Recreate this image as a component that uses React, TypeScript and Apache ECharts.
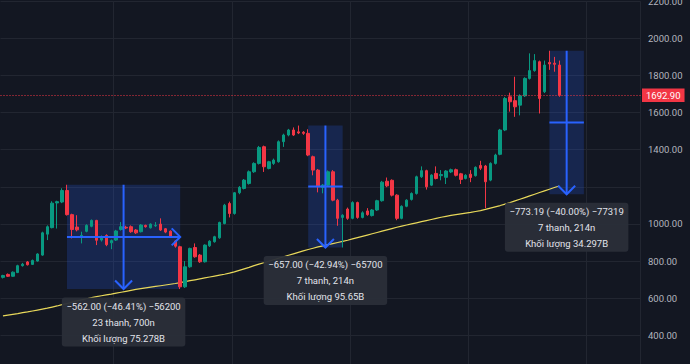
import React, { useEffect, useRef } from 'react';
import * as echarts from 'echarts';

const categories = Array.from({ length: 130 }, (_, i) => `${i + 1}`);

const opens = [
  712, 728, 718, 738, 775, 795, 782, 800, 832, 945,
  980, 1113, 1118, 1180, 1050, 983, 935, 960, 987, 1019,
  913, 938, 898, 913, 970, 982, 985, 967, 958, 992,
  979, 990, 999, 974, 961, 908, 877, 661, 769, 873,
  832, 796, 882, 904, 925, 1002, 1110, 1056, 1168, 1191,
  1218, 1281, 1326, 1416, 1299, 1326, 1335, 1443, 1479, 1506,
  1496, 1494, 1488, 1362, 1290, 1196, 1209, 1281, 1128, 1035,
  1080, 1030, 1115, 1035, 1070, 1045, 1075, 1125, 1230, 1235,
  1155, 1030, 1095, 1132, 1164, 1254, 1287, 1209, 1272, 1260,
  1251, 1280, 1292, 1270, 1245, 1268, 1260, 1315, 1312, 1236,
  1326, 1375, 1506, 1685, 1664, 1640, 1690, 1784, 1826, 1874,
  1712, 1870, 1866, 1856,
];
const closes = [
  722, 718, 740, 775, 783, 780, 803, 838, 952, 985,
  1112, 1120, 1180, 1050, 970, 968, 938, 992, 1019, 912,
  932, 888, 910, 962, 985, 978, 958, 952, 994, 985,
  999, 992, 967, 956, 934, 880, 661, 769, 868, 823,
  796, 886, 907, 931, 1008, 1101, 1056, 1168, 1197, 1236,
  1281, 1326, 1412, 1308, 1335, 1344, 1443, 1479, 1506, 1479,
  1490, 1488, 1371, 1290, 1200, 1209, 1281, 1128, 1030, 1047,
  1030, 1115, 1035, 1060, 1050, 1075, 1125, 1225, 1205, 1155,
  1030, 1095, 1128, 1164, 1254, 1287, 1200, 1263, 1245, 1266,
  1285, 1292, 1262, 1240, 1262, 1250, 1305, 1300, 1227, 1326,
  1371, 1506, 1676, 1658, 1631, 1690, 1784, 1826, 1880, 1676,
  1856, 1862, 1860, 1692.9,
];
const lows = [
  706, 714, 715, 735, 770, 776, 779, 797, 828, 913,
  976, 975, 1112, 1045, 922, 960, 895, 955, 982, 886,
  905, 880, 864, 908, 964, 972, 952, 946, 954, 980,
  975, 984, 962, 950, 928, 872, 649, 655, 764, 818,
  790, 792, 876, 899, 920, 998, 1035, 1050, 1160, 1186,
  1212, 1275, 1320, 1280, 1294, 1318, 1330, 1415, 1472, 1474,
  1484, 1480, 1365, 1262, 1170, 1165, 1204, 1122, 990, 873,
  1022, 1025, 1028, 1030, 1044, 1040, 1070, 1120, 1198, 1148,
  1020, 1025, 1090, 1126, 1158, 1248, 1185, 1204, 1240, 1235,
  1215, 1274, 1256, 1215, 1240, 1225, 1255, 1290, 1085, 1230,
  1320, 1370, 1500, 1605, 1577, 1585, 1684, 1778, 1820, 1595,
  1705, 1830, 1820, 1685,
];
const highs = [
  726, 733, 744, 780, 790, 800, 808, 842, 958, 992,
  1122, 1125, 1192, 1211, 1055, 1047, 958, 998, 1024, 1022,
  938, 944, 916, 968, 1010, 990, 992, 972, 999, 996,
  1003, 1010, 1030, 978, 965, 912, 882, 800, 872, 895,
  838, 890, 912, 936, 1012, 1108, 1120, 1172, 1204, 1242,
  1288, 1332, 1420, 1422, 1340, 1352, 1450, 1486, 1512, 1520,
  1530, 1500, 1510, 1368, 1296, 1215, 1288, 1290, 1135, 1052,
  1088, 1122, 1120, 1068, 1085, 1080, 1130, 1232, 1250, 1240,
  1160, 1100, 1133, 1170, 1260, 1310, 1292, 1268, 1310, 1290,
  1290, 1298, 1298, 1275, 1268, 1290, 1310, 1340, 1318, 1332,
  1378, 1512, 1684, 1707, 1793, 1698, 1790, 1919, 1915, 1880,
  1880, 1933, 1900, 1880,
];
const maValues = [
  505, 509, 513, 517, 522, 526, 531, 536, 541, 546,
  552, 558, 565, 571, 578, 585, 591, 597, 603, 608,
  613, 618, 622, 627, 632, 637, 642, 647, 651, 655,
  659, 663, 667, 671, 675, 679, 684, 689, 694, 699,
  704, 709, 714, 719, 724, 729, 735, 742, 750, 758,
  766, 775, 783, 791, 799, 807, 815, 823, 831, 839,
  847, 855, 862, 869, 876, 882, 888, 894, 900, 906,
  912, 919, 926, 933, 940, 947, 954, 961, 968, 975,
  982, 988, 994, 1000, 1006, 1012, 1018, 1024, 1030, 1036,
  1041, 1046, 1050, 1054, 1058, 1062, 1067, 1072, 1078, 1085,
  1092, 1099, 1107, 1115, 1124, 1133, 1142, 1151, 1160, 1169,
  1178, 1187, 1196, 1204.53,
];

const yMin = 200;
const yMax = 2200;
const yStep = 200;
const hiddenTicks = [200, 1200];
const lastPrice = 1692.9;
const maLast = 1204.53;

const measureStart = [13, 62, 111];
const measureEnd = [36, 69, 118];
const measureFrom = [1211, 1530, 1932.98];
const measureTo = [649, 873, 1159.79];
const measureHArrow = [true, false, false];
const measureLine1 = ['\u2212562.00 (\u221246.41%) \u221256200', '\u2212657.00 (\u221242.94%) \u221265700', '\u2212773.19 (\u221240.00%) \u221277319'];
const measureLine2 = ['23 thanh, 700n', '7 thanh, 214n', '7 thanh, 214n'];
const measureLine3 = ['Khối lượng 75.278B', 'Khối lượng 95.65B', 'Khối lượng 34.297B'];

const UP = '#089981';
const DOWN = '#f23645';
const BLUE = '#2962ff';
const FONT = 'Roboto, "Noto Sans", sans-serif';

export default function App() {
  const ref = useRef<HTMLDivElement>(null);
  useEffect(() => {
    const chart = echarts.init(ref.current!, null, { renderer: 'svg' });
    const candleData = opens.map((o, i) => [o, closes[i], lows[i], highs[i]]);
    const measureData = measureStart.map((s, k) => [s, measureEnd[k], measureFrom[k], measureTo[k]]);

    const option: any = {
      animation: false,
      backgroundColor: '#131722',
      grid: {
        left: 0.5,
        right: 49.5,
        top: 1.2,
        bottom: -8.4,
        containLabel: false,
        outerBoundsMode: 'none',
      },
      xAxis: {
        type: 'category',
        data: categories,
        boundaryGap: true,
        axisLine: { show: false },
        axisTick: { show: false },
        axisLabel: { show: false },
        splitLine: {
          show: true,
          interval: (index: number) => index >= 23 && (index - 23) % 24 === 0,
          lineStyle: { color: '#222631', width: 1 },
        },
      },
      yAxis: {
        type: 'value',
        position: 'right',
        min: yMin,
        max: yMax,
        interval: yStep,
        axisLine: { show: false },
        axisTick: { show: false },
        axisLabel: {
          color: '#b2b5be',
          fontSize: 9.5,
          fontFamily: FONT,
          margin: 7.5,
          formatter: (v: number) => (hiddenTicks.includes(v) ? '' : v.toFixed(2)),
        },
        splitLine: { lineStyle: { color: '#222631', width: 1 } },
      },
      series: [
        {
          type: 'custom',
          z: 1,
          clip: false,
          silent: true,
          encode: { x: [0, 1], y: [2, 3] },
          data: measureData,
          renderItem: (params: any, api: any) => {
            const p0 = api.coord([api.value(0), api.value(2)]);
            const p1 = api.coord([api.value(1), api.value(3)]);
            return {
              type: 'rect',
              shape: { x: p0[0], y: p0[1], width: p1[0] - p0[0], height: p1[1] - p0[1] },
              style: { fill: 'rgba(41,98,255,0.2)' },
            };
          },
        },
        {
          type: 'line',
          data: maValues,
          z: 3,
          clip: false,
          showSymbol: false,
          symbol: 'none',
          silent: true,
          lineStyle: { color: '#e8d85a', width: 1.2 },
          markLine: {
            silent: true,
            symbol: 'none',
            lineStyle: { opacity: 0, width: 0 },
            data: [{ yAxis: maLast }],
            label: {
              show: true,
              position: 'end',
              distance: 1.5,
              formatter: () => maLast.toFixed(2),
              backgroundColor: '#f7e64a',
              color: '#131722',
              fontSize: 9.5,
              fontFamily: FONT,
              padding: [2, 4, 1.5, 4],
            },
          },
        },
        {
          type: 'candlestick',
          data: candleData,
          z: 4,
          clip: false,
          barWidth: 3,
          silent: true,
          itemStyle: {
            color: UP,
            color0: DOWN,
            borderColor: UP,
            borderColor0: DOWN,
            borderWidth: 1,
          },
          markLine: {
            silent: true,
            symbol: 'none',
            lineStyle: { color: DOWN, type: [1, 2], width: 1 },
            data: [{ yAxis: lastPrice }],
            label: {
              show: true,
              position: 'end',
              distance: 1.5,
              formatter: () => lastPrice.toFixed(2),
              backgroundColor: DOWN,
              color: '#ffffff',
              fontSize: 9.5,
              fontFamily: FONT,
              padding: [2, 4, 1.5, 4],
            },
          },
        },
        {
          type: 'custom',
          z: 10,
          clip: false,
          silent: true,
          encode: { x: [0, 1], y: [2, 3] },
          data: measureData,
          renderItem: (params: any, api: any) => {
            const k = params.dataIndex;
            const p0 = api.coord([api.value(0), api.value(2)]);
            const p1 = api.coord([api.value(1), api.value(3)]);
            const x0 = p0[0];
            const x1 = p1[0];
            const y0 = p0[1];
            const y1 = p1[1];
            const xm = (x0 + x1) / 2;
            const ym = (y0 + y1) / 2;
            const lineStyle = { stroke: BLUE, lineWidth: 2, fill: null };
            const children: any[] = [
              { type: 'line', shape: { x1: xm, y1: y0, x2: xm, y2: y1 }, style: lineStyle },
              {
                type: 'polyline',
                shape: { points: [[xm - 8.5, y1 - 8.5], [xm, y1], [xm + 8.5, y1 - 8.5]] },
                style: lineStyle,
              },
              { type: 'line', shape: { x1: x0, y1: ym, x2: x1, y2: ym }, style: lineStyle },
            ];
            if (measureHArrow[k]) {
              children.push({
                type: 'polyline',
                shape: { points: [[x1 - 8.5, ym - 8.5], [x1, ym], [x1 - 8.5, ym + 8.5]] },
                style: lineStyle,
              });
            }
            const bw = 123.5;
            const bh = 49;
            const bx = xm - bw / 2;
            const by = y1 + 8.5;
            children.push({
              type: 'rect',
              shape: { x: bx, y: by, width: bw, height: bh, r: 3 },
              style: { fill: 'rgba(42,46,57,0.95)' },
            });
            const texts = [measureLine1[k], measureLine2[k], measureLine3[k]];
            texts.forEach((t, j) => {
              children.push({
                type: 'text',
                style: {
                  text: t,
                  x: xm,
                  y: by + 8.5 + j * 16,
                  fill: '#e1e3ea',
                  fontSize: 9.5,
                  fontFamily: FONT,
                  align: 'center',
                  verticalAlign: 'middle',
                },
              });
            });
            return { type: 'group', children };
          },
        },
      ],
    };
    chart.setOption(option);
    return () => chart.dispose();
  }, []);
  return (
    <div
      ref={ref}
      style={{ position: 'fixed', left: 0, top: 0, width: 690, height: 364 }}
    />
  );
}
